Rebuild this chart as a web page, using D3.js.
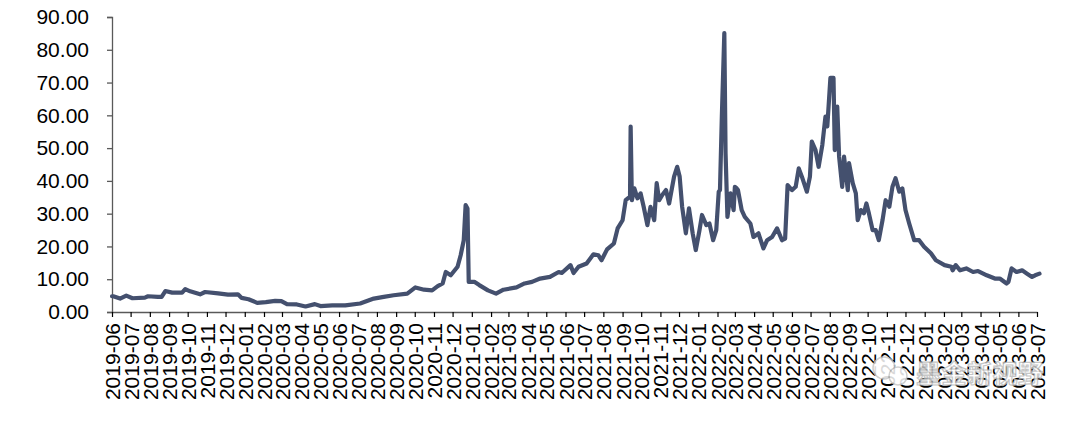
<!DOCTYPE html>
<html>
<head>
<meta charset="utf-8">
<script src="https://cdn.jsdelivr.net/npm/d3@7"></script>
<style>
  html, body { margin: 0; padding: 0; background: #ffffff; }
  svg { display: block; }
</style>
</head>
<body>
<svg id="chart" width="1080" height="421"></svg>
<script>
// ---- data ----
const dates = [
  "2019-06-01","2019-06-03","2019-06-14","2019-06-24","2019-07-04","2019-07-24","2019-07-29","2019-08-14","2019-08-20","2019-08-26",
  "2019-09-06","2019-09-22","2019-09-27","2019-10-05","2019-10-21","2019-10-29","2019-11-19","2019-12-05","2019-12-21","2019-12-27",
  "2020-01-07","2020-01-21","2020-02-04","2020-02-19","2020-02-29","2020-03-09","2020-03-25","2020-04-08","2020-04-23","2020-05-02",
  "2020-05-21","2020-06-11","2020-07-05","2020-07-27","2020-08-12","2020-08-28","2020-09-19","2020-10-02","2020-10-16","2020-10-29",
  "2020-11-07","2020-11-15","2020-11-20","2020-11-28","2020-12-09","2020-12-14","2020-12-19","2020-12-22","2020-12-25","2020-12-27",
  "2021-01-05","2021-01-13","2021-01-27","2021-02-09","2021-02-21","2021-03-14","2021-03-27","2021-04-08","2021-04-21","2021-05-07",
  "2021-05-21","2021-05-26","2021-06-09","2021-06-14","2021-06-22","2021-07-05","2021-07-16","2021-07-24","2021-07-29","2021-08-07",
  "2021-08-18","2021-08-24","2021-09-01","2021-09-06","2021-09-13","2021-09-14","2021-09-16","2021-09-20","2021-09-25","2021-09-30",
  "2021-10-05","2021-10-11","2021-10-16","2021-10-22","2021-10-26","2021-10-30","2021-11-04","2021-11-10","2021-11-15","2021-11-23",
  "2021-11-28","2021-12-02","2021-12-06","2021-12-12","2021-12-17","2021-12-23","2021-12-28","2022-01-03","2022-01-07","2022-01-14",
  "2022-01-19","2022-01-25","2022-01-30","2022-02-03","2022-02-05","2022-02-08","2022-02-12","2022-02-14","2022-02-17","2022-02-22",
  "2022-02-27","2022-03-01","2022-03-04","2022-03-06","2022-03-12","2022-03-17","2022-03-26","2022-03-31","2022-04-08","2022-04-16",
  "2022-04-22","2022-04-30","2022-05-08","2022-05-16","2022-05-21","2022-05-25","2022-06-01","2022-06-07","2022-06-12","2022-06-17",
  "2022-06-25","2022-06-30","2022-07-03","2022-07-09","2022-07-14","2022-07-20","2022-07-25","2022-07-28","2022-08-02","2022-08-07",
  "2022-08-09","2022-08-13","2022-08-16","2022-08-21","2022-08-24","2022-08-30","2022-09-01","2022-09-07","2022-09-12","2022-09-15",
  "2022-09-20","2022-09-25","2022-09-29","2022-10-03","2022-10-09","2022-10-14","2022-10-19","2022-10-25","2022-10-30","2022-11-05",
  "2022-11-10","2022-11-15","2022-11-21","2022-11-26","2022-12-01","2022-12-07","2022-12-15","2022-12-23","2022-12-31","2023-01-11",
  "2023-01-19","2023-02-02","2023-02-13","2023-02-15","2023-02-20","2023-02-27","2023-03-09","2023-03-20","2023-03-28","2023-04-11",
  "2023-04-24","2023-05-02","2023-05-13","2023-05-16","2023-05-21","2023-05-29","2023-06-07","2023-06-15","2023-06-23","2023-06-28",
  "2023-07-05"
];
const values = [
  4.8,4.8,4.1,5.0,4.2,4.4,4.8,4.6,4.6,6.4,
  5.9,5.9,7.0,6.3,5.4,6.1,5.7,5.3,5.4,4.3,
  3.9,2.8,3.0,3.4,3.3,2.4,2.3,1.7,2.4,1.8,
  2.0,2.0,2.6,4.1,4.6,5.1,5.6,7.5,6.8,6.6,
  7.9,8.7,12.2,11.2,13.8,17.3,21.9,32.6,31.6,9.2,
  9.2,8.2,6.6,5.6,6.8,7.5,8.7,9.2,10.2,10.7,
  12.2,11.9,14.3,11.9,13.8,14.8,17.6,17.3,15.8,19.1,
  20.9,25.5,28.0,34.1,35.2,56.6,34.1,37.7,34.7,36.2,
  32.1,26.5,32.1,28.0,39.3,34.1,35.7,37.2,33.1,41.3,
  44.3,41.3,32.1,24.0,31.6,24.0,18.9,25.0,29.6,26.5,
  27.0,21.9,25.0,36.7,37.2,59.6,85.1,48.4,29.0,36.2,
  31.1,38.2,37.7,37.2,31.1,29.0,27.0,22.9,24.0,19.4,
  21.9,22.9,25.5,21.9,22.4,38.7,37.2,38.2,43.8,41.3,
  36.7,41.3,52.0,49.4,44.3,51.0,59.6,56.6,71.4,71.4,
  49.4,62.7,47.4,38.2,47.4,37.2,45.4,39.3,36.2,28.0,
  31.1,30.1,33.1,30.1,25.0,25.0,21.9,28.0,34.1,32.1,
  38.2,40.8,36.7,37.7,31.1,27.0,21.9,21.9,19.9,17.9,
  15.8,14.3,13.8,12.7,14.3,12.7,13.3,12.2,12.5,11.2,
  10.2,10.2,8.7,9.2,13.3,12.2,12.7,11.7,10.7,11.2,
  11.7
];
const yTicks = [0,10,20,30,40,50,60,70,80,90];
const xStart = "2019-06-01";
const xEnd = "2023-07-01";
const watermark = "墨金新视野";

// ---- drawing ----
const parse = d3.timeParse("%Y-%m-%d");
const data = dates.map((d, i) => ({ date: parse(d), value: values[i] }));

const svg = d3.select("#chart");
const margin = { left: 112, top: 17, right: 1037, bottom: 312 };

const x = d3.scaleTime()
  .domain([parse(xStart), parse(xEnd)])
  .range([margin.left, margin.right]);
const y = d3.scaleLinear()
  .domain([0, 90])
  .range([margin.bottom, margin.top]);

const font = "'Liberation Sans', Arial, sans-serif";

// y axis
const yAxis = svg.append("g")
  .attr("transform", `translate(${margin.left},0)`)
  .call(d3.axisLeft(y).tickValues(yTicks).tickFormat(d3.format(".2f")).tickSize(5).tickPadding(18));
yAxis.select(".domain").attr("stroke", "#595959").attr("stroke-width", 1.3);
yAxis.selectAll(".tick line").attr("stroke", "#595959").attr("stroke-width", 1.3);
yAxis.selectAll(".tick text")
  .attr("fill", "#000").style("font-family", font).style("font-size", "21px");

// x axis
const months = d3.timeMonth.range(parse(xStart), d3.timeDay.offset(parse(xEnd), 1));
const xAxis = svg.append("g")
  .attr("transform", `translate(0,${margin.bottom})`)
  .call(d3.axisBottom(x).tickValues(months).tickFormat(d3.timeFormat("%Y-%m")).tickSize(5).tickSizeOuter(0));
xAxis.select(".domain").attr("stroke", "#595959").attr("stroke-width", 1.3);
xAxis.selectAll(".tick line").attr("stroke", "#000").attr("stroke-width", 1.2);
xAxis.selectAll(".tick text")
  .attr("fill", "#000")
  .style("font-family", font).style("font-size", "21px")
  .attr("text-anchor", "end")
  .attr("transform", "rotate(-90)")
  .attr("x", -11)
  .attr("y", 0)
  .attr("dy", "0.36em");

// line
const line = d3.line()
  .x(d => x(d.date))
  .y(d => y(d.value));
svg.append("path")
  .datum(data)
  .attr("fill", "none")
  .attr("stroke", "#44506e")
  .attr("stroke-width", 4.2)
  .attr("stroke-linejoin", "round")
  .attr("stroke-linecap", "round")
  .attr("d", line);

// watermark
const wm = svg.append("g").attr("opacity", 0.85);
wm.append("circle").attr("cx", 884).attr("cy", 368).attr("r", 11)
  .attr("fill", "#fff").attr("stroke", "#c8c8c8").attr("stroke-width", 1.5);
wm.append("circle").attr("cx", 898).attr("cy", 376).attr("r", 9)
  .attr("fill", "#fff").attr("stroke", "#c8c8c8").attr("stroke-width", 1.5);
wm.append("text")
  .attr("x", 916).attr("y", 383)
  .text(watermark)
  .style("font-family", "'Noto Sans CJK SC', sans-serif")
  .style("font-size", "25px")
  .style("font-weight", "bold")
  .attr("fill", "#fff")
  .attr("stroke", "#bdbdbd")
  .attr("stroke-width", 1.2)
  .attr("textLength", 127);
</script>
</body>
</html>
